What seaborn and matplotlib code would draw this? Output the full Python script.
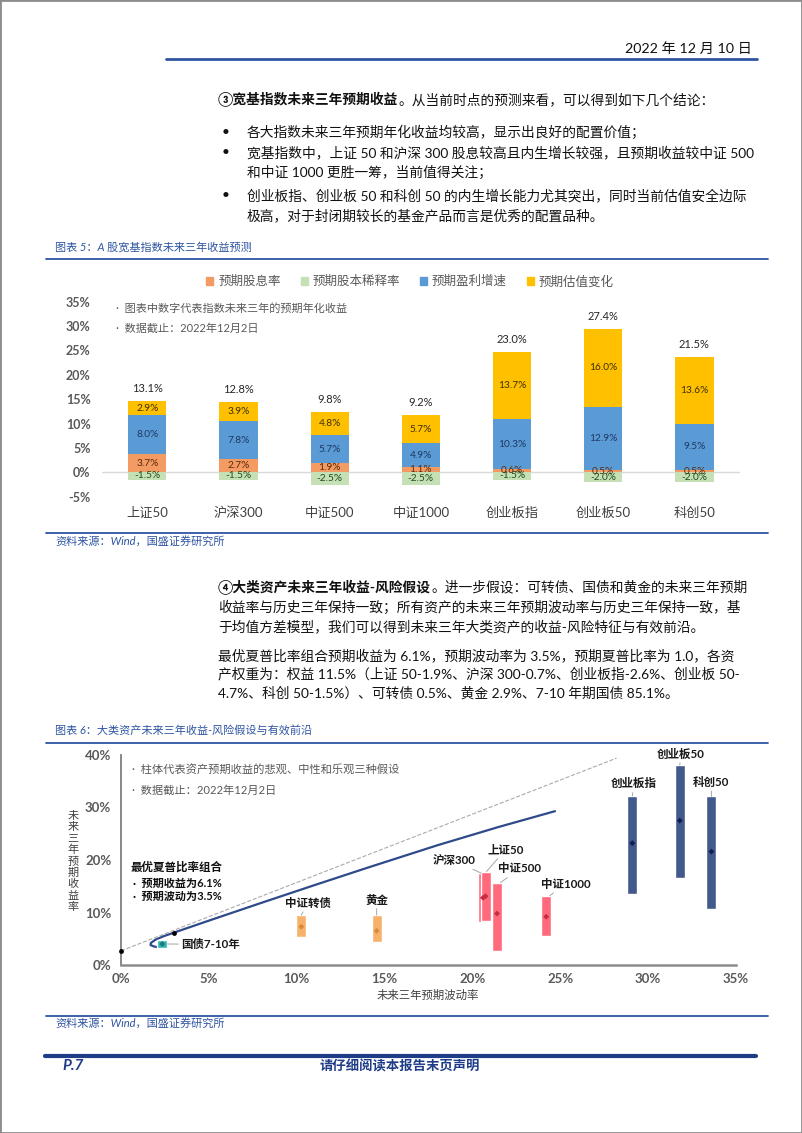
import matplotlib
matplotlib.use('Agg')
import matplotlib.pyplot as plt
from matplotlib.lines import Line2D
from matplotlib.patches import Patch, Rectangle
import numpy as np
import pandas as pd
import seaborn as sns

# chart 5: expected 3-year return decomposition of broad indices (%)
indices = ['上证50', '沪深300', '中证500', '中证1000', '创业板指', '创业板50', '科创50']
dividend = [3.7, 2.7, 1.9, 1.1, 0.6, 0.5, 0.5]
dilution = [-1.5, -1.5, -2.5, -2.5, -1.5, -2.0, -2.0]
earnings = [8.0, 7.8, 5.7, 4.9, 10.3, 12.9, 9.5]
valuation = [2.9, 3.9, 4.8, 5.7, 13.7, 16.0, 13.6]
totals = [13.1, 12.8, 9.8, 9.2, 23.0, 27.4, 21.5]
series_names = ['预期股息率', '预期股本稀释率', '预期盈利增速', '预期估值变化']

# chart 6: asset return ranges vs. volatility (%)
assets = ['国债7-10年', '中证转债', '黄金', '沪深300', '上证50', '中证500', '中证1000', '创业板指', '创业板50', '科创50']
asset_vol = [2.35, 10.26, 14.55, 20.6, 20.75, 21.4, 24.2, 29.1, 31.8, 33.6]
ret_low = [3.2, 5.4, 4.3, 8.1, 8.4, 2.7, 5.6, 13.5, 16.6, 10.6]
ret_mid = [4.0, 7.3, 6.5, 12.8, 13.1, 9.8, 9.2, 23.2, 27.5, 21.6]
ret_high = [4.8, 9.5, 9.5, 17.5, 17.8, 15.7, 13.2, 32.2, 38.1, 32.1]
asset_group = ['bond', 'alt', 'alt', 'broad', 'broad', 'broad', 'broad', 'growth', 'growth', 'growth']

frontier_vol = [2.3, 1.9, 1.68, 1.7, 1.95, 2.4, 3.0, 5.0, 8.0, 11.0, 14.0, 18.0, 21.5, 24.7]
frontier_ret = [3.3, 3.5, 3.8, 4.2, 4.8, 5.45, 6.15, 8.45, 11.85, 15.2, 18.5, 22.8, 26.3, 29.3]
cml_vol = [0.0, 28.2]
cml_ret = [2.7, 39.4]
key_vol = [0.0, 3.0]      # risk-free point and max-sharpe point
key_ret = [2.7, 6.15]

BLUE = '#2E54A1'
DARKBLUE = '#1F3C88'
GREY = '#595959'
BODY = 9.9

sns.set_theme(style='white')
plt.rcParams['font.family'] = ['Lato', 'Noto Sans CJK SC', 'DejaVu Sans']
plt.rcParams['axes.unicode_minus'] = False

W, H = 802, 1133
fig = plt.figure(figsize=(W / 100, H / 100), dpi=100, facecolor='white')
renderer = fig.canvas.get_renderer()


def fx(px):
    return px / W


def fy(py):
    return 1 - py / H


def hline(y, x0, x1, lw=1.3, color=BLUE):
    fig.add_artist(Line2D([fx(x0), fx(x1)], [fy(y), fy(y)], lw=lw, color=color))


def put(x, y, s, size=BODY, **kw):
    kw.setdefault('color', '#111111')
    kw.setdefault('va', 'center')
    return fig.text(fx(x), fy(y), s, fontsize=size, **kw)


def put_pair(x, y, bold, rest, size=BODY):
    t = put(x, y, bold, size, weight='bold')
    put(t.get_window_extent(renderer).x1, y, rest, size)


# page frame, header, footer
fig.add_artist(Rectangle((0, 0), 1, 1, transform=fig.transFigure, fill=False,
                         edgecolor='#8C8C8C', lw=2))
put(752, 48, '2022 年 12 月 10 日', 10.3, ha='right')
hline(59, 166, 757, lw=2)
hline(1055.7, 45, 756, lw=3, color=DARKBLUE)
put(62, 1066, 'P.7', 11, color=DARKBLUE, weight='bold', style='italic')
put(400, 1066, '请仔细阅读本报告末页声明', 9.6, color=DARKBLUE, weight='bold', ha='center')

# section 3 text
put_pair(218, 99, '③宽基指数未来三年预期收益', '。从当前时点的预测来看，可以得到如下几个结论：')
for y in [132, 152, 195]:
    put(222, y, '•')
body3 = [
    (132, '各大指数未来三年预期年化收益均较高，显示出良好的配置价值；'),
    (152, '宽基指数中，上证 50 和沪深 300 股息较高且内生增长较强，且预期收益较中证 500'),
    (172, '和中证 1000 更胜一筹，当前值得关注；'),
    (195, '创业板指、创业板 50 和科创 50 的内生增长能力尤其突出，同时当前估值安全边际'),
    (215, '极高，对于封闭期较长的基金产品而言是优秀的配置品种。'),
]
for y, s in body3:
    put(247, y, s)

# section 4 text
put_pair(218, 587, '④大类资产未来三年收益-风险假设', '。进一步假设：可转债、国债和黄金的未来三年预期')
body4 = [
    (607, '收益率与历史三年保持一致；所有资产的未来三年预期波动率与历史三年保持一致，基'),
    (626, '于均值方差模型，我们可以得到未来三年大类资产的收益-风险特征与有效前沿。'),
    (655, '最优夏普比率组合预期收益为 6.1%，预期波动率为 3.5%，预期夏普比率为 1.0，各资'),
    (674, '产权重为：权益 11.5%（上证 50-1.9%、沪深 300-0.7%、创业板指-2.6%、创业板 50-'),
    (693, '4.7%、科创 50-1.5%）、可转债 0.5%、黄金 2.9%、7-10 年期国债 85.1%。'),
]
for y, s in body4:
    put(218, y, s)

# captions and sources
for cy, ly0, ly1, src_y, cap in [(247, 259, 533, 541, '图表 5：A 股宽基指数未来三年收益预测'),
                                  (730, 743, 1016, 1023, '图表 6：大类资产未来三年收益-风险假设与有效前沿')]:
    put(55, cy, cap, 8, color=BLUE, style='italic')
    hline(ly0, 46, 768)
    hline(ly1, 46, 768)
    put(55, src_y, '资料来源：Wind，国盛证券研究所', 8, color=BLUE, style='italic')

# ---------------- chart 5 ----------------
colors5 = ['#F39B62', '#C5E0B4', '#5B9BD5', '#FFC000']
text5 = ['#5C2A0C', '#1E4D1E', '#1F3864', '#3D3000']
ax1 = fig.add_axes([fx(101.7), fy(496.7), (740 - 101.7) / W, (496.7 - 301.7) / H])
div = np.array(dividend)
earn = np.array(earnings)
val = np.array(valuation)
dil = np.array(dilution)
stack_tops = [div + earn + val, div + earn, div, dil]
for tops, c in zip(stack_tops, [colors5[3], colors5[2], colors5[0], colors5[1]]):
    sns.barplot(x=indices, y=tops, order=indices, color=c, width=0.42, saturation=1,
                errorbar=None, ax=ax1, linewidth=0)
ax1.axhline(0, color='#D9D9D9', lw=1, zorder=0.5)
for i in range(len(indices)):
    segs = [(div[i] / 2, dividend[i], text5[0]),
            (dil[i] / 2, dilution[i], text5[1]),
            (div[i] + earn[i] / 2, earnings[i], text5[2]),
            (div[i] + earn[i] + val[i] / 2, valuation[i], text5[3])]
    for yv, v, c in segs:
        ax1.text(i, yv, f'{v:.1f}%', ha='center', va='center', fontsize=7.3, color=c)
    ax1.annotate(f'{totals[i]:.1f}%', (i, div[i] + earn[i] + val[i]), xytext=(0, 5),
                 textcoords='offset points', ha='center', va='bottom', fontsize=8,
                 color='#262626')
ax1.set_xlim(-0.5, len(indices) - 0.5)
ax1.set_ylim(-5, 35)
ax1.set_yticks(range(-5, 40, 5))
ax1.set_yticklabels([f'{v}%' for v in range(-5, 40, 5)])
ax1.tick_params(axis='y', length=0, pad=8, labelsize=9, labelcolor=GREY)
ax1.tick_params(axis='x', length=0, pad=7, labelsize=9.5, labelcolor='#404040')
for lbl in ax1.get_yticklabels():
    lbl.set_fontweight('bold')
ax1.set_xlabel('')
ax1.set_ylabel('')
for sp in ax1.spines.values():
    sp.set_visible(False)
ax1.set_facecolor('none')

fig.legend([Patch(color=c) for c in colors5], series_names, loc='center',
           bbox_to_anchor=(fx(410), fy(281)), ncol=4, frameon=False, fontsize=9,
           handlelength=0.55, handleheight=0.55, handletextpad=0.4, columnspacing=1.6,
           labelcolor=GREY)
put(116, 308.5, '·  图表中数字代表指数未来三年的预期年化收益', 8, color=GREY)
put(116, 328.5, '·  数据截止：2022年12月2日', 8, color=GREY)

# ---------------- chart 6 ----------------
group_colors = {'bond': '#33B5B5', 'alt': '#F6B26B', 'broad': '#FF6B7D', 'growth': '#42598C'}
dot_colors = {'bond': '#1D7A7A', 'alt': '#D68A3A', 'broad': '#C42D45', 'growth': '#0D1F4F'}
ax2 = fig.add_axes([fx(121), fy(965), (736 - 121) / W, (965 - 755) / H])
sns.lineplot(x=cml_vol, y=cml_ret, ax=ax2, color='#ABABAB', lw=0.8, linestyle='--',
             estimator=None)
sns.lineplot(x=frontier_vol, y=frontier_ret, ax=ax2, color='#2F4A8A', lw=1.6, sort=False,
             estimator=None)
ax2.bar(asset_vol, np.subtract(ret_high, ret_low), bottom=ret_low, width=0.57,
        color=[group_colors[g] for g in asset_group], zorder=3)
sns.scatterplot(x=asset_vol, y=ret_mid, hue=asset_group, palette=dot_colors, marker='D',
                s=9, linewidth=0, legend=False, ax=ax2, zorder=4)
sns.scatterplot(x=key_vol, y=key_ret, color='black', s=12, linewidth=0, ax=ax2, zorder=5,
                clip_on=False)

# label text position, alignment, leader anchor
label_layout = {
    '国债7-10年': ((3.45, 3.95), 'left', (2.65, 4.0)),
    '中证转债': ((10.64, 11.8), 'center', (10.26, 9.5)),
    '黄金': ((14.55, 12.4), 'center', (14.55, 9.5)),
    '沪深300': ((20.15, 19.9), 'right', (20.5, 17.5)),
    '上证50': ((20.83, 21.9), 'left', (20.8, 17.8)),
    '中证500': ((21.45, 18.3), 'left', (21.6, 15.7)),
    '中证1000': ((23.9, 15.4), 'left', (24.4, 13.2)),
    '创业板指': ((29.2, 34.5), 'center', (29.1, 32.2)),
    '创业板50': ((31.87, 40.2), 'center', (31.8, 38.1)),
    '科创50': ((33.6, 34.8), 'center', (33.6, 32.1)),
}
for name in assets:
    (tx, ty), ha, anchor = label_layout[name]
    ax2.annotate(name, xy=anchor, xytext=(tx, ty), ha=ha, va='center', fontsize=8.3,
                 weight='bold', color='#1A1A1A', annotation_clip=False,
                 arrowprops=dict(arrowstyle='-', color='#A6A6A6', lw=0.7,
                                 shrinkA=0, shrinkB=0))

ax2.text(0.55, 18.7, '最优夏普比率组合', fontsize=8.3, weight='bold', color='#111111', va='center')
ax2.text(0.7, 15.6, '·  预期收益为6.1%', fontsize=8, weight='bold', color='#111111', va='center')
ax2.text(0.7, 13.0, '·  预期波动为3.5%', fontsize=8, weight='bold', color='#111111', va='center')
ax2.text(0.6, 37.3, '·  柱体代表资产预期收益的悲观、中性和乐观三种假设', fontsize=8.1, color=GREY, va='center')
ax2.text(0.6, 33.3, '·  数据截止：2022年12月2日', fontsize=8.1, color=GREY, va='center')

ax2.set_xlim(0, 35)
ax2.set_ylim(0, 40)
ax2.set_xticks(range(0, 40, 5))
ax2.set_xticklabels([f'{v}%' for v in range(0, 40, 5)])
ax2.set_yticks(range(0, 50, 10))
ax2.set_yticklabels([f'{v}%' for v in range(0, 50, 10)])
ax2.tick_params(axis='both', length=0, labelsize=9.5, labelcolor=GREY)
ax2.tick_params(axis='y', pad=7)
ax2.tick_params(axis='x', pad=6)
for lbl in ax2.get_xticklabels() + ax2.get_yticklabels():
    lbl.set_fontweight('bold')
for side in ['top', 'right']:
    ax2.spines[side].set_visible(False)
ax2.spines['left'].set_color('#7F7F7F')
ax2.spines['left'].set_linewidth(1.3)
ax2.spines['bottom'].set_color('#8C8C8C')
ax2.spines['bottom'].set_linewidth(1.8)
ax2.set_xlabel('')
ax2.set_ylabel('')
ax2.set_facecolor('none')
put(428, 995, '未来三年预期波动率', 8.2, color='#404040', ha='center')
put(73, 861, '\n'.join('未来三年预期收益率'), 8, color='#404040', ha='center', linespacing=1.05)

fig.savefig('out.png', dpi=100, facecolor='white')
